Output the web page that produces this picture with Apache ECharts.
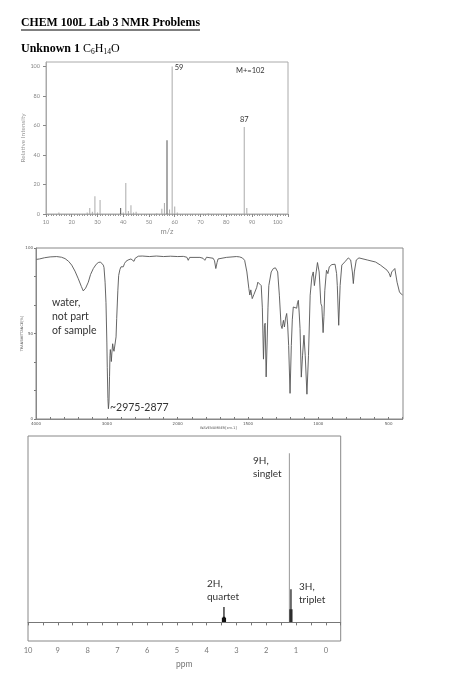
<!DOCTYPE html>
<html><head><meta charset="utf-8">
<script src="https://cdn.jsdelivr.net/npm/echarts@6/dist/echarts.min.js"></script>
<style>html,body{margin:0;padding:0;background:#fff}#c{width:463px;height:700px}</style>
</head><body><div id="c"></div>
<script>
// ---------- Mass spectrum ----------
const msMz        = [15, 26, 27, 28, 29, 30, 31, 39, 40, 41, 42, 43, 44, 45, 53, 55, 56, 57, 58, 59, 60, 61, 73, 87, 88];
const msIntensity = [1, 1, 4, 1.5, 12, 1, 9.5, 4, 1, 21, 2, 6, 1, 1.5, 0.5, 3.5, 7.5, 50, 3, 100, 5, 1, 0.5, 59, 4];
const msTicks     = [10, 20, 30, 40, 50, 60, 70, 80, 90, 100];

// ---------- IR spectrum (wavenumber cm-1, transmittance %) ----------
const irWavenumber = [4000,3950,3880,3800,3708,3640,3590,3540,3496,3450,3403,3360,3333,3300,3262,3230,3191,3150,3121,3090,3073,3050,3040,3025,3012,3000,2994,2985,2978,2970,2962,2956,2951,2944,2937,2930,2918,2908,2899,2885,2877,2870,2861,2845,2833,2815,2800,2780,2768,2750,2730,2700,2683,2660,2640,2617,2600,2556,2500,2400,2300,2200,2100,2000,
  1960,1935,1925,1915,1901,1842,1820,1807,1795,1784,1748,1738,1729,1720,1713,1654,1583,1560,1540,1524,1508,1494,1487,1480,1470,1458,1446,1438,1430,1418,1406,1398,1390,1383,1378,1371,1364,1358,1352,1335,1320,1305,1289,1277,1265,1258,1252,1248,1241,1233,1225,1218,1211,1201,1192,1185,1178,1164,1154,1148,1142,1136,1130,1121,1112,1102,1093,1081,1070,1058,1046,1036,1028,1015,1006,994,982,975,966,960,954,942,932,922,904,881,870,865,855,845,833,820,810,800,787,770,758,751,744,730,711,652,593,558,511,495,487,478,471,456,440,423,410,400];
const irTransmittance = [93.3,93.6,94.3,94.8,95.0,94.6,93.8,92.2,90.0,86.5,82.0,77.5,74.9,76.5,80.0,84.5,88.0,90.5,91.5,91.8,91.3,90.0,88.5,80.0,68.0,45.0,30.0,12.0,6.0,10.0,25.0,37.0,40.6,38.0,33.6,38.0,44.0,41.0,39.6,39.5,39.0,48.0,58.7,75.0,84.0,87.5,89.0,89.5,89.0,91.0,92.2,93.0,93.4,93.6,93.0,92.2,94.0,95.2,95.3,95.0,95.3,95.0,95.2,95.0,
  95.1,94.6,92.8,94.5,95.0,94.5,94.0,92.8,94.6,95.0,94.0,92.5,88.0,91.5,93.6,94.5,95.0,94.8,94.2,92.8,86.0,76.3,72.5,75.5,70.4,72.8,72.4,77.0,80.0,81.0,78.0,65.0,35.0,54.8,56.0,24.6,45.0,65.0,78.0,86.0,88.0,88.4,86.0,72.4,54.8,52.9,56.0,57.7,53.8,59.0,61.7,55.0,43.0,15.0,43.0,58.0,65.5,66.5,64.8,68.0,69.4,62.0,52.9,24.5,37.3,49.0,37.0,14.5,37.0,72.4,83.0,86.0,78.0,86.0,91.5,86.0,67.5,66.0,50.5,60.0,75.0,87.0,85.0,89.0,90.3,90.5,85.0,78.0,54.8,78.0,90.0,90.5,92.0,91.0,94.2,93.0,86.0,79.2,86.0,93.0,94.2,93.0,91.8,90.0,87.0,85.0,83.0,86.0,87.0,88.0,80.0,74.3,73.0,72.5];

// ---------- 1H NMR sticks (ppm, relative height) ----------
const nmrSingletPpm = [1.22];
const nmrSingletHeight = [90.7];
const nmrMultipletPpm    = [3.37, 3.40, 3.42, 3.44, 3.47, 1.14, 1.17, 1.20];
const nmrMultipletHeight = [2.5, 3.0, 8.2, 3.0, 2.5, 7.0, 17.8, 7.0];

const irHigh = [], irLow = [];
irWavenumber.forEach((w, i) => {
  if (w >= 2000) irHigh.push([w, irTransmittance[i]]);
  if (w <= 2000) irLow.push([w, irTransmittance[i]]);
});

const darkMs = [39, 57];
const msData = msMz.map((m, i) => {
  const d = { value: [m, msIntensity[i]], itemStyle: { color: darkMs.includes(m) ? '#555' : '#aaa' } };
  if (m === 59) d.label = { show: true, formatter: '59', position: [3, -3], fontSize: 7.5, color: '#333', fontFamily: 'Lato' };
  if (m === 87) d.label = { show: true, formatter: '87', position: 'top', distance: 3, fontSize: 7.5, color: '#333', fontFamily: 'Lato' };
  return d;
});

const tinyLabel = { fontSize: 4, color: '#555', fontFamily: 'DejaVu Sans' };

const chart = echarts.init(document.getElementById('c'), null, { renderer: 'canvas' });
chart.setOption({
  animation: false,
  backgroundColor: '#fff',
  grid: [
    { left: 46, top: 62, width: 242, height: 152, show: true, borderColor: '#aaa', borderWidth: 1 },
    { left: 36, top: 248, width: 141.7, height: 171 },
    { left: 177.7, top: 248, width: 225, height: 171 },
    { left: 28, top: 436, width: 312.7, height: 205, show: true, borderColor: '#888', borderWidth: 1 }
  ],
  xAxis: [
    { gridIndex: 0, type: 'value', min: msTicks[0], max: 104, interval: 10,
      axisLine: { lineStyle: { color: '#aaa' } },
      axisTick: { length: 3, lineStyle: { color: '#888' } },
      minorTick: { show: true, splitNumber: 10, length: 2, lineStyle: { color: '#999' } },
      axisLabel: { fontSize: 5.5, color: '#888', margin: 5, showMaxLabel: false, fontFamily: 'Lato' },
      splitLine: { show: false },
      name: 'm/z', nameLocation: 'middle', nameGap: 14, nameMoveOverlap: false,
      nameTextStyle: { fontSize: 7.5, color: '#888', fontFamily: 'Lato' } },
    { gridIndex: 1, type: 'value', min: 2000, max: 4000, inverse: true, interval: 200,
      axisLine: { lineStyle: { color: '#888' } },
      axisTick: { length: 2, inside: true, lineStyle: { color: '#777' } },
      axisLabel: Object.assign({ margin: 3, formatter: v => (v % 1000 === 0 ? String(v) : '') }, tinyLabel),
      splitLine: { show: false } },
    { gridIndex: 2, type: 'value', min: 400, max: 2000, inverse: true, interval: 100,
      axisLine: { lineStyle: { color: '#888' } },
      axisTick: { length: 2, inside: true, lineStyle: { color: '#777' } },
      axisLabel: Object.assign({ margin: 3, formatter: v => (v % 500 === 0 && v !== 2000 ? String(v) : '') }, tinyLabel),
      splitLine: { show: false } },
    { gridIndex: 3, type: 'value', min: -0.5, max: 10, inverse: true, interval: 0.5,
      axisLine: { lineStyle: { color: '#888' } },
      axisTick: { length: 3, lineStyle: { color: '#777' } },
      axisLabel: { fontSize: 7.5, color: '#777', margin: 6, fontFamily: 'Lato', formatter: v => (Number.isInteger(v) ? String(v) : '') },
      splitLine: { show: false },
      name: 'ppm', nameLocation: 'middle', nameGap: 19, nameMoveOverlap: false,
      nameTextStyle: { fontSize: 8.5, color: '#777', fontFamily: 'Lato' } }
  ],
  yAxis: [
    { gridIndex: 0, type: 'value', min: 0, max: 103, interval: 20,
      axisLine: { show: true, lineStyle: { color: '#aaa' } },
      axisTick: { show: true, length: 3, lineStyle: { color: '#888' } },
      axisLabel: { fontSize: 5.5, color: '#888', margin: 6, showMaxLabel: false, fontFamily: 'Lato' },
      splitLine: { show: false },
      name: 'Relative Intensity', nameLocation: 'middle', nameGap: 20, nameRotate: 90, nameMoveOverlap: false,
      nameTextStyle: { fontSize: 6.5, color: '#999', fontFamily: 'Lato' } },
    { gridIndex: 1, type: 'value', min: 0, max: 100, interval: 50,
      axisLine: { show: true, lineStyle: { color: '#888' } },
      axisTick: { show: true, length: 2, lineStyle: { color: '#777' } },
      minorTick: { show: true, splitNumber: 3, length: 2, lineStyle: { color: '#777' } },
      axisLabel: Object.assign({ margin: 3 }, tinyLabel),
      splitLine: { show: false },
      name: 'TRANSMITTANCE[%]', nameLocation: 'middle', nameGap: 12, nameRotate: 90, nameMoveOverlap: false,
      nameTextStyle: { fontSize: 3.5, color: '#555', fontFamily: 'DejaVu Sans' } },
    { gridIndex: 2, type: 'value', min: 0, max: 100, show: false },
    { gridIndex: 3, type: 'value', min: -10, max: 100, show: false }
  ],
  series: [
    { type: 'bar', xAxisIndex: 0, yAxisIndex: 0, barWidth: 1, data: msData, silent: true },
    { type: 'line', xAxisIndex: 1, yAxisIndex: 1, data: irHigh, showSymbol: false, symbol: 'none',
      lineStyle: { color: '#555', width: 0.9 }, silent: true },
    { type: 'line', xAxisIndex: 2, yAxisIndex: 2, data: irLow, showSymbol: false, symbol: 'none',
      lineStyle: { color: '#555', width: 0.9 }, silent: true },
    { type: 'bar', xAxisIndex: 3, yAxisIndex: 3, barWidth: 1, barGap: '-100%',
      data: nmrSingletPpm.map((p, i) => [p, nmrSingletHeight[i]]),
      itemStyle: { color: '#999' }, silent: true,
      markLine: { silent: true, symbol: 'none', label: { show: false },
        lineStyle: { color: '#777', type: 'solid', width: 1 }, data: [{ yAxis: 0 }] } },
    { type: 'bar', xAxisIndex: 3, yAxisIndex: 3, barWidth: 1.2, barGap: '-100%',
      data: nmrMultipletPpm.map((p, i) => [p, nmrMultipletHeight[i]]),
      itemStyle: { color: '#111' }, silent: true }
  ],
  graphic: [
    { type: 'text', left: 21, top: 17, style: { text: 'CHEM 100L Lab 3 NMR Problems', fontSize: 11.8, fontWeight: 'bold', fontFamily: 'Liberation Serif', fill: '#000' } },
    { type: 'line', shape: { x1: 21, y1: 30, x2: 200, y2: 30 }, style: { stroke: '#000', lineWidth: 1 } },
    { type: 'text', left: 21, top: 43, style: {
        text: '{b|Unknown 1 }{n|C}{s|6}{n|H}{s|14}{n|O}',
        rich: {
          b: { fontSize: 12, fontWeight: 'bold', fontFamily: 'Liberation Serif', lineHeight: 14, fill: '#000' },
          n: { fontSize: 12, fontFamily: 'Liberation Serif', lineHeight: 14, fill: '#000' },
          s: { fontSize: 7.5, fontFamily: 'Liberation Serif', lineHeight: 6, verticalAlign: 'bottom', fill: '#000' }
        } } },
    { type: 'text', left: 236, top: 67, style: { text: 'M+=102', fontSize: 7.5, fontFamily: 'Lato', fill: '#333' } },
    { type: 'rect', shape: { x: 36, y: 248, width: 367, height: 171 }, style: { fill: 'none', stroke: '#888', lineWidth: 1 }, z: 10 },
    { type: 'text', left: 200, top: 426, style: { text: 'WAVENUMBER[cm-1]', fontSize: 3.5, fontFamily: 'DejaVu Sans', fill: '#555' } },
    { type: 'text', left: 52, top: 296, style: { text: 'water,\nnot part\nof sample', fontSize: 10.5, lineHeight: 14, fontFamily: 'Lato', fill: '#333' } },
    { type: 'text', left: 110, top: 402, style: { text: '~2975-2877', fontSize: 10.5, fontFamily: 'Lato', fill: '#333' } },
    { type: 'text', left: 253, top: 454, style: { text: '9H,\nsinglet', fontSize: 10, lineHeight: 13, fontFamily: 'Lato', fill: '#333' } },
    { type: 'text', left: 207, top: 577, style: { text: '2H,\nquartet', fontSize: 10, lineHeight: 13, fontFamily: 'Lato', fill: '#333' } },
    { type: 'text', left: 299, top: 580, style: { text: '3H,\ntriplet', fontSize: 10, lineHeight: 13, fontFamily: 'Lato', fill: '#333' } }
  ]
});
</script></body></html>
